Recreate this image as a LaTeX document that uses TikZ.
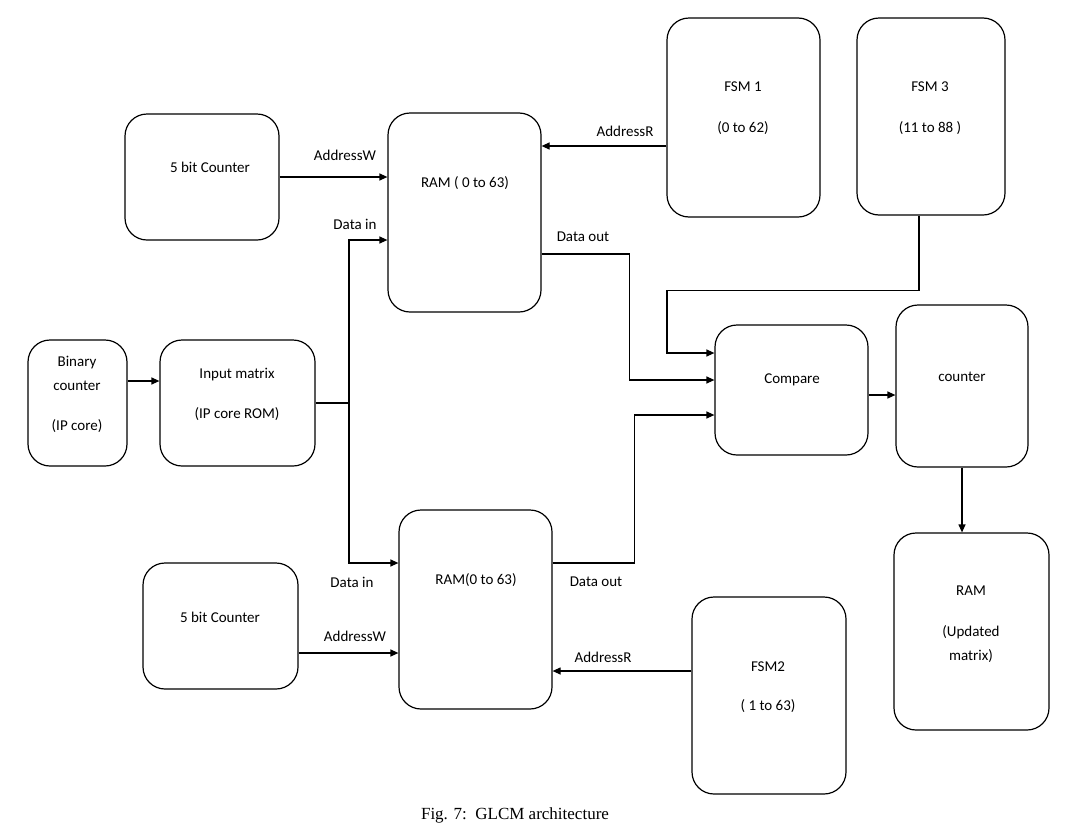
\documentclass[tikz,border=0pt]{standalone}
\usepackage{fontspec}
\setmainfont{Carlito}
\newfontfamily\capfont{Liberation Serif}
\usetikzlibrary{arrows.meta,calc}
\begin{document}
\begin{tikzpicture}[x=1pt,y=-1pt,
  box/.style={draw, line width=1.2pt, rounded corners=22pt, inner sep=0pt},
  ln/.style={line width=1.2pt},
  arr/.style={line width=1.2pt, -{Triangle[length=8pt,width=7pt]}},
  txt/.style={font=\fontsize{15}{17}\selectfont, inner sep=0pt}]
\useasboundingbox[fill=white] (0,0) rectangle (1067,830);

% boxes
\node[box, minimum width=154pt, minimum height=126pt] (cnt1) at (202,177) {};
\node[box, minimum width=153pt, minimum height=199pt] (ram1) at (464.5,212.5) {};
\node[box, minimum width=153pt, minimum height=199pt] (fsm1) at (743.5,117.5) {};
\node[box, minimum width=148pt, minimum height=197pt] (fsm3) at (931,116.5) {};
\node[box, minimum width=99pt, minimum height=126pt] (bin) at (77.5,403) {};
\node[box, minimum width=155pt, minimum height=126pt] (inm) at (237.5,403) {};
\node[box, minimum width=153pt, minimum height=130pt] (cmp) at (791.5,390) {};
\node[box, minimum width=132pt, minimum height=162pt] (ctr) at (962,386) {};
\node[box, minimum width=155pt, minimum height=197pt] (ramu) at (971.5,631.5) {};
\node[box, minimum width=153pt, minimum height=199pt] (ram2) at (475.5,609.5) {};
\node[box, minimum width=155pt, minimum height=126pt] (cnt2) at (220.5,626) {};
\node[box, minimum width=154pt, minimum height=197pt] (fsm2) at (769,695.5) {};

% box texts
\node[txt] (t1) at (210,167) {5 bit Counter};
\node[txt] (t2) at (465,183) {RAM ( 0 to 63)};
\node[txt] (t3) at (743,87) {FSM 1};
\node[txt] (t4) at (743,128) {(0 to 62)};
\node[txt] (t5) at (930,87) {FSM 3};
\node[txt] (t6) at (930,128) {(11 to 88 )};
\node[txt] (t7) at (77,363) {Binary};
\node[txt] (t8) at (77,386) {counter};
\node[txt] (t9) at (77,426) {(IP core)};
\node[txt] (t10) at (237,375) {Input matrix};
\node[txt] (t11) at (237,414) {(IP core ROM)};
\node[txt] (t12) at (792,380) {Compare};
\node[txt] (t13) at (962,377) {counter};
\node[txt] (t14) at (971,591) {RAM};
\node[txt] (t15) at (971,632) {(Updated};
\node[txt] (t16) at (971,656) {matrix)};
\node[txt] (t17) at (476,580) {RAM(0 to 63)};
\node[txt] (t18) at (220,617) {5 bit Counter};
\node[txt] (t19) at (768,667) {FSM2};
\node[txt] (t20) at (768,706) {( 1 to 63)};

% connector labels
\node[txt] (l1) at (345,155) {AddressW};
\node[txt] (l2) at (625,131) {AddressR};
\node[txt] (l3) at (355,224) {Data in};
\node[txt] (l4) at (583,237) {Data out};
\node[txt] (l5) at (352,582) {Data in};
\node[txt] (l6) at (596,582) {Data out};
\node[txt] (l7) at (355,636) {AddressW};
\node[txt] (l8) at (603,657) {AddressR};

% connectors
\draw[arr] (cnt1.east) -- (cnt1.east -| ram1.west);
\draw[arr] ($(fsm1.west)+(0,28.5)$) coordinate (a1) -- (a1 -| ram1.east);
\coordinate (dj) at (349,403);
\draw[ln] (inm.east) -- (dj);
\draw[arr] (dj) |- ($(ram1.west)+(0,27.5)$);
\draw[arr] (dj) |- ($(ram2.west)+(0,-46.5)$);
\draw[arr] ($(ram1.east)+(0,41.5)$) -- ++(88,0) |- ($(cmp.west)+(0,-10)$);
\draw[arr] ($(fsm3.south)+(-12,0)$) -- ++(0,75) -- ++(-252,0) |- ($(cmp.west)+(0,-37)$);
\draw[arr] ($(ram2.east)+(0,-46.5)$) -- ++(82,0) |- ($(cmp.west)+(0,25)$);
\draw[arr] ($(cmp.east)+(0,5)$) coordinate (c1) -- (c1 -| ctr.west);
\draw[arr] (ctr.south) -- (ctr.south |- ramu.north);
\draw[arr] ($(bin.east)+(0,-22)$) coordinate (b1) -- (b1 -| inm.west);
\draw[arr] ($(cnt2.east)+(0,27)$) coordinate (c2) -- (c2 -| ram2.west);
\draw[arr] ($(fsm2.west)+(0,-24.5)$) coordinate (f2) -- (f2 -| ram2.east);

% caption
\node[font=\capfont\fontsize{17}{19}\selectfont, inner sep=0pt] (cap) at (515,815) {Fig. 7:\ \ GLCM architecture};
\end{tikzpicture}
\end{document}
